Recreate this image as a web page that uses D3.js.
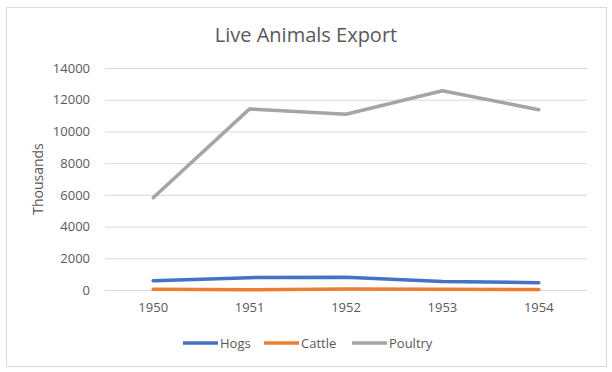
<!DOCTYPE html>
<html>
<head>
<meta charset="utf-8">
<script src="https://cdn.jsdelivr.net/npm/d3@7"></script>
<style>
  body { margin: 0; background: #fff; }
  svg { display: block; font-family: "Open Sans", sans-serif; }
</style>
</head>
<body>
<div id="chart"></div>
<script>
// Chart data
const years = ["1950", "1951", "1952", "1953", "1954"];
const hogs = [590, 780, 800, 530, 460];
const cattle = [40, 20, 60, 40, 30];
const poultry = [5820, 11420, 11080, 12570, 11370];
const yTicks = [0, 2000, 4000, 6000, 8000, 10000, 12000, 14000];

const seriesNames = ["Hogs", "Cattle", "Poultry"];
const seriesValues = [hogs, cattle, poultry];
const colors = ["#4472C4", "#ED7D31", "#A5A5A5"];

const width = 612, height = 372;
const plot = { left: 105, right: 587, top: 68, bottom: 290 };

const svg = d3.select('#chart')
    .append('svg')
    .attr('width', width)
    .attr('height', height);

// outer chart border
svg.append('rect')
    .attr('x', 6.5).attr('y', 7.5)
    .attr('width', 600).attr('height', 359)
    .attr('fill', '#fff')
    .attr('stroke', '#d9d9d9');

const x = d3.scaleBand().domain(years).range([plot.left, plot.right]);
const y = d3.scaleLinear().domain([0, 14000]).range([plot.bottom, plot.top]);

// gridlines + y labels
const yAxis = d3.axisLeft(y)
    .tickValues(yTicks)
    .tickFormat(d3.format('d'))
    .tickSize(-(plot.right - plot.left))
    .tickPadding(15);
const gy = svg.append('g')
    .attr('transform', `translate(${plot.left},0)`)
    .call(yAxis);
gy.select('.domain').remove();
gy.selectAll('line').attr('stroke', '#d9d9d9');
gy.selectAll('text')
    .attr('fill', '#595959')
    .style('font-size', '13px')
    .style('font-family', '"Open Sans", sans-serif');

// x labels
const xAxis = d3.axisBottom(x).tickSize(0).tickPadding(13);
const gx = svg.append('g')
    .attr('transform', `translate(0,${plot.bottom})`)
    .call(xAxis);
gx.select('.domain').remove();
gx.selectAll('text')
    .attr('fill', '#595959')
    .style('font-size', '13px')
    .style('font-family', '"Open Sans", sans-serif');

// lines
const line = d3.line()
    .x((d, i) => x(years[i]) + x.bandwidth() / 2)
    .y(d => y(d));

seriesValues.forEach((vals, k) => {
    svg.append('path')
        .datum(vals)
        .attr('d', line)
        .attr('fill', 'none')
        .attr('stroke', colors[k])
        .attr('stroke-width', 3.5)
        .attr('stroke-linejoin', 'round')
        .attr('stroke-linecap', 'round');
});

// title
svg.append('text')
    .attr('x', 306).attr('y', 42)
    .attr('text-anchor', 'middle')
    .attr('fill', '#595959')
    .style('font-size', '20px')
    .text('Live Animals Export');

// axis title
svg.append('text')
    .attr('transform', 'translate(43,179) rotate(-90)')
    .attr('text-anchor', 'middle')
    .attr('fill', '#595959')
    .style('font-size', '14px')
    .text('Thousands');

// legend
const legendX = [183, 264, 352];
seriesNames.forEach((name, k) => {
    const g = svg.append('g').attr('transform', `translate(${legendX[k]},343)`);
    g.append('line')
        .attr('x1', 0).attr('x2', 35)
        .attr('stroke', colors[k])
        .attr('stroke-width', 3.5);
    g.append('text')
        .attr('x', 37).attr('y', 0)
        .attr('dy', '0.35em')
        .attr('fill', '#595959')
        .style('font-size', '13px')
        .text(name);
});
</script>
</body>
</html>
